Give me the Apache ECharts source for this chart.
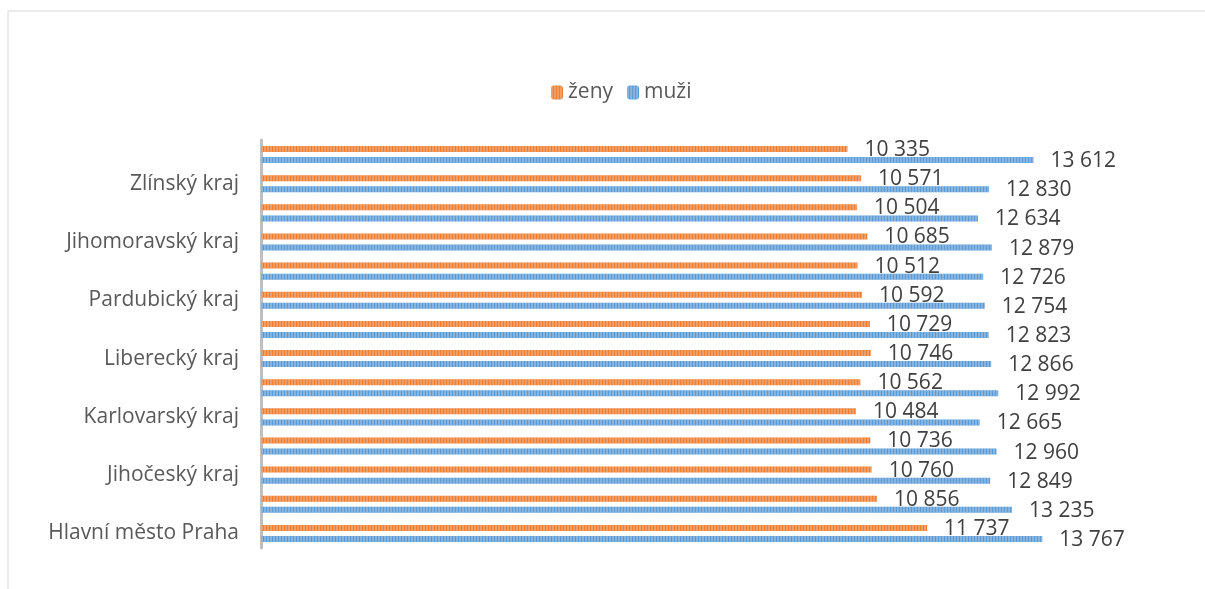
<!DOCTYPE html>
<html>
<head>
<meta charset="utf-8">
<script src="https://cdn.jsdelivr.net/npm/echarts@6/dist/echarts.min.js"></script>
<style>
html,body{margin:0;padding:0;background:#fff;}
#chart{width:1205px;height:589px;}
</style>
</head>
<body>
<div id="chart"></div>
<script>
const categories = [
  'Hlavní město Praha', 'Středočeský kraj', 'Jihočeský kraj', 'Plzeňský kraj',
  'Karlovarský kraj', 'Ústecký kraj', 'Liberecký kraj', 'Královéhradecký kraj',
  'Pardubický kraj', 'Kraj Vysočina', 'Jihomoravský kraj', 'Olomoucký kraj',
  'Zlínský kraj', 'Moravskoslezský kraj'
];
const zeny = [11737, 10856, 10760, 10736, 10484, 10562, 10746, 10729, 10592, 10512, 10685, 10504, 10571, 10335];
const muzi = [13767, 13235, 12849, 12960, 12665, 12992, 12866, 12823, 12754, 12726, 12879, 12634, 12830, 13612];
const seriesNames = ['ženy', 'muži'];

const FONT = 'Open Sans';
const fmt = v => String(v).replace(/\B(?=(\d{3})+(?!\d))/g, ' ');
const decal = {
  symbol: 'rect', symbolSize: 1,
  dashArrayX: [2, 1], dashArrayY: [4, 0],
  color: 'rgba(255,255,255,0.25)'
};
function mkSeries(name, data, color) {
  return {
    name: name, type: 'bar', data: data,
    barWidth: 6, barGap: '85%',
    itemStyle: { color: color, decal: decal },
    label: {
      show: true, position: 'right', distance: 17, offset: [0, 1],
      color: '#404040', fontFamily: FONT, fontSize: 21,
      formatter: p => fmt(p.value)
    }
  };
}

const chart = echarts.init(document.getElementById('chart'));
chart.setOption({
  animation: false,
  backgroundColor: '#fff',
  graphic: [{
    type: 'rect', shape: { x: 8, y: 11, width: 1220, height: 620 },
    style: { fill: 'none', stroke: '#d9d9d9', lineWidth: 1 }, z: -1
  }],
  legend: {
    top: 77, left: 546, itemWidth: 12, itemHeight: 14, itemGap: 14,
    textStyle: { color: '#595959', fontFamily: FONT, fontSize: 21 },
    data: seriesNames
  },
  grid: { left: 261, right: 36, top: 140, bottom: 41, containLabel: false },
  xAxis: {
    type: 'value', min: 0, max: 16000, show: false
  },
  yAxis: {
    type: 'category', data: categories,
    axisLine: { show: true, lineStyle: { color: '#bfbfbf', width: 3 } },
    axisTick: { show: false },
    axisLabel: { interval: 1, margin: 22, color: '#595959', fontFamily: FONT, fontSize: 21 }
  },
  series: [
    mkSeries(seriesNames[0], zeny, '#ED7D31'),
    mkSeries(seriesNames[1], muzi, '#5B9BD5')
  ]
});
</script>
</body>
</html>
